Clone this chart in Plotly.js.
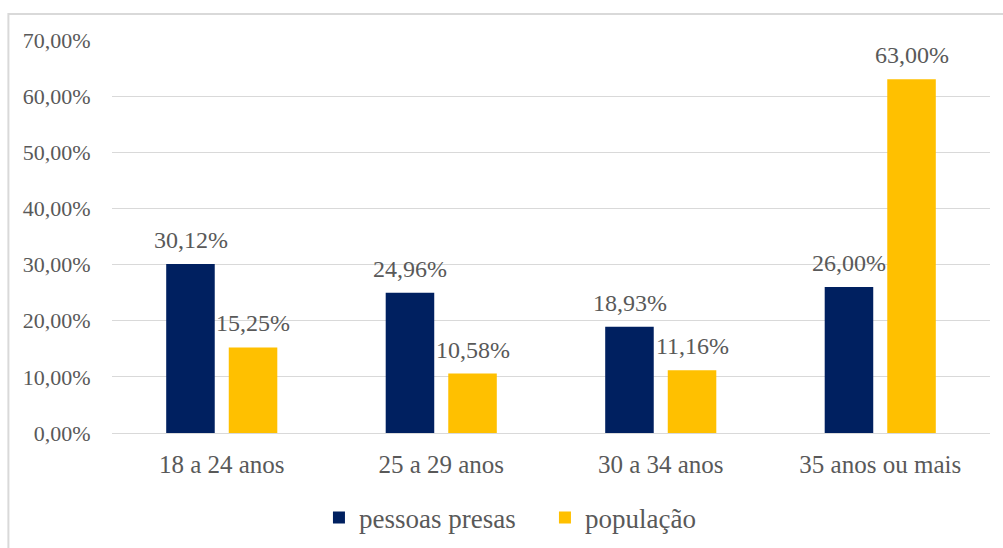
<!DOCTYPE html>
<html>
<head>
<meta charset="utf-8">
<script src="https://cdn.plot.ly/plotly-3.0.1.min.js"></script>
<style>
html,body{margin:0;padding:0;background:#fff;}
#plotdiv svg text{font-family:"Times New Roman","Liberation Serif",serif !important;}
</style>
</head>
<body>
<div id="plotdiv"></div>
<script>
const categories = ["18 a 24 anos", "25 a 29 anos", "30 a 34 anos", "35 anos ou mais"];
const presas = [30.12, 24.96, 18.93, 26.00];
const populacao = [15.25, 10.58, 11.16, 63.00];
const presasLabels = ["30,12%", "24,96%", "18,93%", "26,00%"];
const populacaoLabels = ["15,25%", "10,58%", "11,16%", "63,00%"];
const yTickVals = [0, 10, 20, 30, 40, 50, 60, 70];
const yTickText = ["0,00%", "10,00%", "20,00%", "30,00%", "40,00%", "50,00%", "60,00%", "70,00%"];

const FONT = '"Times New Roman", serif';
const TXT = '#595959';
const NAVY = '#002060';
const YELLOW = '#FFC000';

const traces = [
  {type: 'bar', name: 'pessoas presas', x: categories, y: presas, marker: {color: NAVY}},
  {type: 'bar', name: 'população', x: categories, y: populacao, marker: {color: YELLOW}}
];

const slot = 62.5;
const annotations = [];
for (let i = 0; i < categories.length; i++) {
  annotations.push({x: categories[i], y: presas[i], xref: 'x', yref: 'y', text: presasLabels[i], showarrow: false,
    xshift: -slot / 2, yanchor: 'bottom', yshift: 9, font: {family: FONT, size: 24, color: TXT}});
  annotations.push({x: categories[i], y: populacao[i], xref: 'x', yref: 'y', text: populacaoLabels[i], showarrow: false,
    xshift: slot / 2, yanchor: 'bottom', yshift: 9, font: {family: FONT, size: 24, color: TXT}});
}

const layout = {
  width: 1003, height: 548,
  margin: {l: 112, r: 13, t: 40, b: 115},
  barmode: 'group', bargap: 0.43, bargroupgap: 0.224,
  showlegend: true,
  legend: {orientation: 'h', xref: 'container', yref: 'container', x: 0.318, xanchor: 'left', y: 0.055, yanchor: 'middle',
    entrywidth: 181, font: {family: FONT, size: 27, color: TXT}},
  xaxis: {type: 'category', showgrid: false, showline: false, zeroline: false,
    ticks: 'outside', ticklen: 9, tickcolor: 'rgba(0,0,0,0)',
    tickfont: {family: FONT, size: 25, color: TXT}},
  yaxis: {range: [0, 70], tickvals: yTickVals, ticktext: yTickText,
    showgrid: true, gridcolor: '#d9d9d9', gridwidth: 1, zeroline: true, zerolinecolor: '#d9d9d9', zerolinewidth: 1,
    showline: false, ticks: 'outside', ticklen: 16, tickcolor: 'rgba(0,0,0,0)',
    tickfont: {family: FONT, size: 22, color: TXT}},
  annotations: annotations,
  shapes: [{type: 'rect', xref: 'paper', yref: 'paper', x0: -0.118, x1: 1.05, y0: -0.5, y1: 1.066,
    line: {color: '#d9d9d9', width: 2}, fillcolor: 'rgba(0,0,0,0)', layer: 'below'}]
};

Plotly.newPlot('plotdiv', traces, layout, {displayModeBar: false});
</script>
</body>
</html>
